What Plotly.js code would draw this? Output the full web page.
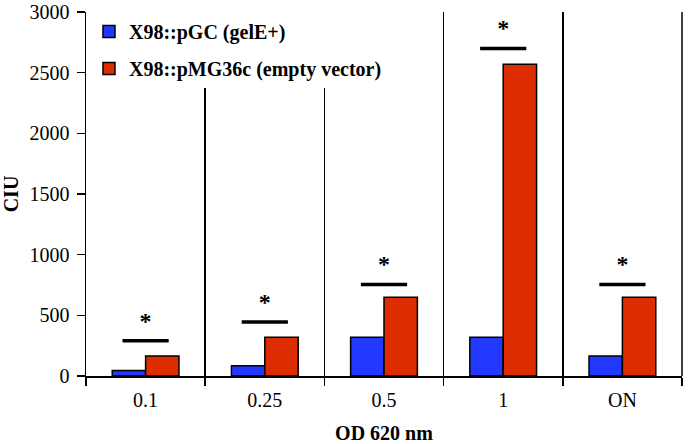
<!DOCTYPE html>
<html><head><meta charset="utf-8">
<script src="https://cdn.plot.ly/plotly-3.0.1.min.js"></script>
<style>html,body{margin:0;padding:0;background:#fff}</style>
</head><body>
<div id="chart" style="width:688px;height:444px"></div>
<script>
var categories = ['0.1', '0.25', '0.5', '1', 'ON'];
var gelEPlus = [45, 85, 320, 320, 165];
var emptyVector = [165, 320, 650, 2570, 650];
var sigLine = [290, 445, 755, 2700, 755];
var sigStar = [440, 595, 905, 2850, 905];
var seriesNames = ['X98::pGC (gelE+)', 'X98::pMG36c (empty vector)'];

var serif = 'Liberation Serif, Times New Roman, serif';
var data = [
  {type:'bar', x:categories, y:gelEPlus, name:seriesNames[0], legendgroup:'a',
   marker:{color:'#2338FF', line:{color:'#000', width:1.5}}},
  {type:'bar', x:categories, y:emptyVector, name:seriesNames[1], legendgroup:'b',
   marker:{color:'#DD2C00', line:{color:'#000', width:1.5}}},
  {type:'scatter', mode:'markers', x:categories, y:sigLine, showlegend:false, hoverinfo:'skip',
   marker:{symbol:'line-ew', size:33, line:{color:'#000', width:3.5}}},
  {type:'scatter', mode:'text', x:categories, y:sigStar, showlegend:false, hoverinfo:'skip',
   text:categories.map(function(){return '*';}), textposition:'middle center',
   textfont:{family:serif, size:24, color:'#000', weight:'bold'}}
];
var layout = {
  width:688, height:444,
  margin:{l:86, r:6, t:12, b:68},
  paper_bgcolor:'#fff', plot_bgcolor:'#fff',
  barmode:'group', bargap:0.44, bargroupgap:0,
  font:{family:serif, size:20, color:'#000'},
  showlegend:true,
  legend:{x:0.005, y:1, xanchor:'left', yanchor:'top', bgcolor:'#fff', borderwidth:0,
    traceorder:'grouped', tracegroupgap:8, itemwidth:30,
    font:{family:serif, size:20, color:'#000', weight:'bold'}},
  shapes:[{type:'line', xref:'paper', yref:'paper', x0:1, x1:1, y0:0, y1:1,
    line:{color:'#000', width:1.5}}],
  xaxis:{type:'category', range:[-0.5, 4.5], tickson:'boundaries', ticks:'outside', ticklen:8,
    tickwidth:1.5, tickcolor:'#000', showline:true, linecolor:'#000', linewidth:1.5,
    showgrid:true, gridcolor:'#000', gridwidth:1.5, zeroline:false,
    ticklabelstandoff:5,
    tickfont:{family:serif, size:20, color:'#000'},
    title:{text:'OD 620 nm', standoff:18, font:{family:serif, size:20, color:'#000', weight:'bold'}}},
  yaxis:{range:[0, 3000], dtick:500, ticks:'outside', ticklen:8, tickwidth:1.5, tickcolor:'#000',
    showline:true, linecolor:'#000', linewidth:1.5, showgrid:false, zeroline:false,
    ticklabelstandoff:3,
    tickfont:{family:serif, size:20, color:'#000'},
    title:{text:'CIU', standoff:10, font:{family:serif, size:20, color:'#000', weight:'bold'}}}
};
Plotly.newPlot('chart', data, layout, {displayModeBar:false, staticPlot:true});
</script>
</body></html>
